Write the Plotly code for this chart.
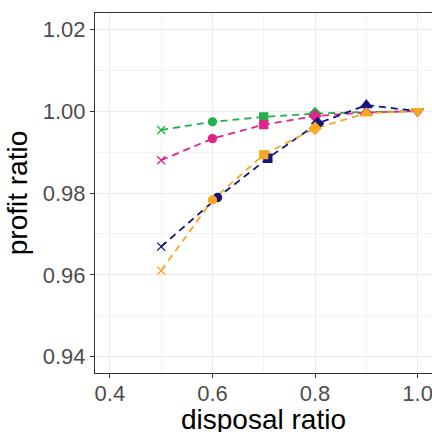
import plotly.graph_objects as go

# disposal ratios (x) and profit ratios (y) for each scenario
disposal = [0.5, 0.6, 0.7, 0.8, 0.9, 1.0]
disposal_navy = [0.5, 0.61, 0.708, 0.805, 0.9, 1.0]

profit_green = [0.9954, 0.9974, 0.9986, 0.9994, 0.9998, 1.0]
profit_pink = [0.9880, 0.9933, 0.9967, 0.9988, 0.9997, 1.0]
profit_navy = [0.9669, 0.9789, 0.9885, 0.9970, 1.0015, 1.0]
profit_orange = [0.9610, 0.9783, 0.9894, 0.9958, 0.9995, 1.0]

series = [
    ("green", disposal, profit_green, "#22B14C"),
    ("pink", disposal, profit_pink, "#E0248A"),
    ("navy", disposal_navy, profit_navy, "#14147A"),
    ("orange", disposal, profit_orange, "#F7A823"),
]

# one marker shape per disposal ratio
symbols = ["x-thin", "circle", "square", "diamond", "triangle-up", "triangle-down"]
sizes = [8, 8, 8, 9, 10, 10]

x_ticks = [0.4, 0.6, 0.8, 1.0]
y_ticks = [0.94, 0.96, 0.98, 1.00, 1.02]

fig = go.Figure()
for name, xs, ys, col in series:
    fig.add_trace(go.Scatter(
        x=xs, y=ys, mode="lines", name=name,
        line=dict(color=col, width=1.8, dash="7px,5px"),
        showlegend=False, hoverinfo="skip",
    ))
for name, xs, ys, col in series:
    fig.add_trace(go.Scatter(
        x=xs, y=ys, mode="markers", name=name,
        marker=dict(symbol=symbols, size=sizes, color=col, opacity=1,
                    line=dict(color=col, width=1.3)),
        showlegend=False,
    ))

axis_common = dict(
    showline=True, linecolor="#333333", linewidth=1, mirror=True,
    ticks="outside", ticklen=4, tickcolor="#333333", tickwidth=1,
    showgrid=True, gridcolor="#EBEBEB", gridwidth=1.2,
    zeroline=False, ticklabeloverflow="allow", automargin=False,
    tickfont=dict(family="Liberation Sans, Arial, sans-serif", size=22, color="#4D4D4D"),
)

fig.update_layout(
    width=432, height=432,
    margin=dict(l=95, r=0, t=13, b=59),
    paper_bgcolor="white", plot_bgcolor="white",
    font=dict(family="Liberation Sans, Arial, sans-serif"),
    xaxis=dict(
        range=[0.371, 1.028], tickvals=x_ticks, ticktext=[f"{v:.1f}" for v in x_ticks],
        minor=dict(dtick=0.1, tick0=0.5, showgrid=True, gridcolor="#F2F2F2", gridwidth=0.8, ticks=""),
        ticklabelstandoff=-3,
        **axis_common,
    ),
    yaxis=dict(
        range=[0.936, 1.024], tickvals=y_ticks, ticktext=[f"{v:.2f}" for v in y_ticks],
        minor=dict(dtick=0.01, tick0=0.95, showgrid=True, gridcolor="#F2F2F2", gridwidth=0.8, ticks=""),
        title=dict(text="profit ratio", font=dict(size=28, color="black"), standoff=6),
        **axis_common,
    ),
)

# x-axis title placed just below the tick labels
fig.add_annotation(
    text="disposal ratio", xref="x domain", x=0.5, yref="paper", y=-0.08,
    yanchor="top", xanchor="center", showarrow=False,
    font=dict(size=28, color="black"),
)

fig.write_html("out.html")
